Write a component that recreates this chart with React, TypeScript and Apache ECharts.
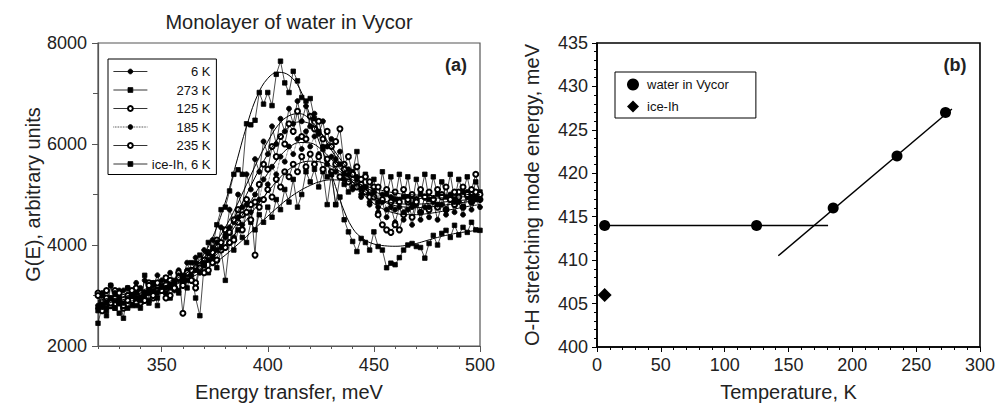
import React, { useEffect, useRef } from 'react';
import * as echarts from 'echarts';

const FONT = '"Liberation Sans", Arial, Helvetica, sans-serif';

// ---------- Panel (a): measured spectra ----------
const energy = [
  320, 322, 324, 326, 328, 330, 332, 334, 336, 338,
  340, 342, 344, 346, 348, 350, 352, 354, 356, 358,
  360, 362, 364, 366, 368, 370, 372, 374, 376, 378,
  380, 382, 384, 386, 388, 390, 392, 394, 396, 398,
  400, 402, 404, 406, 408, 410, 412, 414, 416, 418,
  420, 422, 424, 426, 428, 430, 432, 434, 436, 438,
  440, 442, 444, 446, 448, 450, 452, 454, 456, 458,
  460, 462, 464, 466, 468, 470, 472, 474, 476, 478,
  480, 482, 484, 486, 488, 490, 492, 494, 496, 498,
  500,
];

const g6K = [
  2750, 3050, 2850, 3200, 2900, 3100, 2800, 3150, 3000, 3250,
  2950, 3300, 3050, 3200, 3400, 3150, 3300, 3450, 3250, 3500,
  3350, 3650, 3400, 3750, 3550, 3900, 3700, 4100, 3900, 4350,
  4150, 4700, 4450, 5000, 4750, 5400, 5100, 5700, 5450, 6050,
  5800, 6350, 6000, 6500, 6250, 6700, 6400, 6850, 6450, 6750,
  6350, 6600, 6200, 6450, 5950, 6100, 5700, 5850, 5400, 5500,
  5100, 5350, 4950, 5150, 4800, 4950, 4650, 4850, 4550, 4750,
  4450, 4750, 4500, 4700, 4400, 4800, 4500, 4750, 4550, 4850,
  4500, 4800, 4600, 4900, 4650, 4850, 4600, 4950, 4700, 4900,
  4750,
];

const g273K = [
  2700, 3000, 2600, 3200, 2750, 2950, 2550, 3150, 2800, 3050,
  2750, 3400, 2900, 3250, 2800, 3150, 3350, 2950, 3200, 3050,
  3300, 3150, 3500, 2950, 2600, 3600, 3450, 3800, 3550, 3900,
  3300, 4050, 3900, 4300, 4150, 4050, 4450, 4300, 4600, 4450,
  4750, 4550, 4900, 4700, 5100, 4850, 5300, 4750, 5000, 5450,
  5250, 5500, 5150, 5450, 4800, 5400, 4800, 5350, 5200, 5050,
  5450, 5850, 5100, 5400, 5000, 5300, 4850, 5450, 5000, 5350,
  4900, 5400, 4950, 5350, 4800, 5300, 5000, 5400, 4900, 5350,
  5000, 5250, 4950, 5400, 4900, 5300, 5050, 5350, 4950, 5250,
  5050,
];

const g125K = [
  3050, 2700, 2950, 2800, 3100, 2850, 2750, 3000, 2900, 3150,
  2850, 3050, 3250, 2950, 3200, 3100, 3350, 3000, 3150, 3450,
  2650, 3350, 3500, 3250, 3600, 3450, 3850, 3650, 4100, 3900,
  4300, 4050, 4500, 4700, 4600, 4900, 4800, 3800, 5200, 5600,
  5500, 5950, 5750, 6150, 6000, 6400, 6250, 6650, 6150, 6100,
  6550, 6300, 6450, 6100, 6250, 5950, 6050, 6300, 5600, 5750,
  5400, 5550, 5200, 5350, 4950, 5150, 4600, 4400, 4300, 4250,
  4400, 4300, 4600, 4850, 4550, 4900, 4650, 4950, 4700, 4900,
  4750, 5000, 4700, 4950, 4800, 5050, 4750, 5000, 4850, 5050,
  4900,
];

const g185K = [
  2800, 3000, 2750, 2950, 3050, 2850, 3100, 2900, 3050, 2950,
  3150, 2950, 3100, 3250, 3050, 3300, 3150, 3250, 3100, 3400,
  3250, 3500, 3300, 3650, 3450, 3600, 3850, 3750, 4050, 3950,
  4200, 4350, 4150, 4550, 4400, 4800, 4650, 5000, 4900, 5300,
  5200, 5550, 5400, 5750, 5650, 5950, 5800, 6100, 5900, 6250,
  5950, 6150, 5800, 5950, 5600, 5750, 5450, 5600, 5300, 5400,
  5150, 5300, 5000, 5150, 4850, 5050, 4750, 5000, 4700, 4950,
  4700, 4900, 4650, 4950, 4750, 4850, 4650, 4950, 4750, 4900,
  4800, 4950, 4700, 5000, 4850, 4950, 4750, 5050, 4850, 4950,
  4900,
];

const g235K = [
  3000, 2800, 3100, 2850, 2950, 3050, 2800, 2900, 3100, 2850,
  3050, 2900, 3200, 3000, 3250, 3100, 2950, 3300, 3150, 3350,
  3200, 3450, 3300, 3150, 3550, 3700, 3500, 3850, 3700, 4050,
  3950, 4250, 4100, 4450, 4300, 4650, 4500, 4850, 4750, 4900,
  5100, 4950, 5300, 5150, 5450, 5350, 5600, 5450, 5750, 5550,
  5800, 5600, 5750, 5500, 5700, 5450, 5600, 5350, 5500, 5250,
  5400, 5150, 5300, 5050, 5250, 4950, 5150, 4900, 5100, 4850,
  5050, 4850, 5100, 4900, 5000, 4850, 5100, 4950, 5050, 4900,
  5100, 4950, 5150, 4900, 5050, 4950, 5150, 5000, 5100, 5400,
  5000,
];

const gIce = [
  2450, 2800, 2700, 2950, 2750, 2650, 2850, 2750, 3000, 2800,
  2900, 3050, 2850, 3100, 2950, 3200, 3050, 3150, 3300, 3100,
  3400, 3300, 3650, 3500, 3800, 3650, 4050, 3950, 4400, 4700,
  4750, 5070, 5400, 5490, 5400, 6400, 6380, 6470, 7020, 6790,
  7020, 6760, 7380, 7640, 7210, 7020, 7440, 7250, 6920, 6850,
  6900, 6500, 6250, 5900, 5350, 5400, 4800, 4950, 4500, 4260,
  4070, 3870, 4130, 4050, 3900, 4260, 3970, 3900, 3550, 3640,
  3610, 3750, 3900, 4000, 4030, 3970, 3950, 3740, 4030, 4190,
  4000, 4230, 4290, 4150, 4390, 4200, 4350, 4250, 4450, 4300,
  4290,
];

// fitted curves
const fitEnergy = [
  320, 325, 330, 335, 340, 345, 350, 355, 360, 365, 370, 375, 380, 385, 390, 395, 400, 405, 410,
  415, 420, 425, 430, 435, 440, 445, 450, 455, 460, 465, 470, 475, 480, 485, 490, 495, 500,
];
const fitIce = [
  2700, 2760, 2820, 2880, 2950, 3030, 3120, 3230, 3380, 3570, 3820, 4250, 4850, 5600, 6350, 6950, 7300, 7420, 7360,
  7100, 6550, 5950, 5400, 4780, 4330, 4120, 4020, 3985, 3975, 3990, 4030, 4090, 4150, 4200, 4240, 4270, 4300,
];
const fit6K = [
  2900, 2950, 3000, 3050, 3100, 3160, 3220, 3300, 3400, 3550, 3750, 4020, 4350, 4750, 5200, 5650, 6050, 6380, 6560,
  6600, 6480, 6220, 5880, 5550, 5250, 5000, 4820, 4700, 4630, 4600, 4600, 4620, 4650, 4690, 4730, 4770, 4800,
];
const fit125K = [
  2850, 2900, 2950, 3000, 3050, 3110, 3170, 3240, 3330, 3480, 3700, 3950, 4250, 4600, 5000, 5420, 5800, 6120, 6340,
  6440, 6400, 6220, 5950, 5650, 5380, 5150, 4970, 4850, 4780, 4750, 4740, 4750, 4770, 4800, 4830, 4860, 4880,
];
const fit185K = [
  2880, 2920, 2960, 3000, 3050, 3100, 3160, 3230, 3320, 3460, 3650, 3850, 4100, 4400, 4730, 5080, 5420, 5720, 5930,
  6030, 6020, 5900, 5700, 5470, 5250, 5080, 4950, 4870, 4830, 4810, 4810, 4820, 4840, 4860, 4880, 4900, 4920,
];
const fit235K = [
  2850, 2890, 2940, 2980, 3030, 3080, 3140, 3210, 3300, 3430, 3600, 3780, 4000, 4240, 4500, 4780, 5050, 5300, 5500,
  5620, 5660, 5640, 5560, 5430, 5290, 5160, 5060, 4990, 4950, 4930, 4920, 4920, 4930, 4940, 4950, 4960, 4970,
];
const fit273K = [
  2800, 2850, 2900, 2950, 3000, 3060, 3120, 3190, 3280, 3380, 3500, 3640, 3800, 3980, 4170, 4370, 4570, 4760, 4930,
  5070, 5180, 5260, 5290, 5280, 5240, 5180, 5120, 5070, 5030, 5000, 4990, 4980, 4980, 4980, 4990, 5000, 5000,
];

// ---------- Panel (b) ----------
const waterTemps = [6, 125, 185, 235, 273];
const waterPeaks = [414, 414, 416, 422, 427];
const iceTemps = [6];
const icePeaks = [406];
const flatLineT = [6, 181];
const flatLineE = [414, 414];
const slopeLineT = [142, 278];
const slopeLineE = [410.5, 427.4];

const legendA = ['6 K', '273 K', '125 K', '185 K', '235 K', 'ice-Ih, 6 K'];
const legendB = ['water in Vycor', 'ice-Ih'];

const zip = (xs: number[], ys: number[]) => xs.map((x, i) => [x, ys[i]]);

export default function App() {
  const ref = useRef<HTMLDivElement>(null);

  useEffect(() => {
    const chart = echarts.init(ref.current as HTMLDivElement, null, { renderer: 'svg' });

    const dataSeries = (name: string, ys: number[], symbol: string, lineType: string = 'solid') => ({
      type: 'line',
      name,
      xAxisIndex: 0,
      yAxisIndex: 0,
      data: zip(energy, ys),
      symbol,
      symbolSize: symbol === 'rect' ? 4.5 : 5,
      showSymbol: true,
      lineStyle: { color: '#000', width: 0.7, type: lineType },
      itemStyle: { color: '#000', borderColor: '#000', borderWidth: 0.8, opacity: 1 },
      emphasis: { disabled: true },
      z: 3,
    });
    const fitSeries = (ys: number[]) => ({
      type: 'line',
      xAxisIndex: 0,
      yAxisIndex: 0,
      data: zip(fitEnergy, ys),
      smooth: 0.4,
      symbol: 'none',
      showSymbol: false,
      lineStyle: { color: '#000', width: 1 },
      silent: true,
      z: 4,
    });
    const axisText = { fontFamily: FONT, fontSize: 18, color: '#222' };
    const nameText = { fontFamily: FONT, fontSize: 20, color: '#222' };
    const plain = (v: number) => String(v);

    chart.setOption({
      animation: false,
      backgroundColor: '#fff',
      textStyle: { fontFamily: FONT },
      grid: [
        { left: 98, top: 43, width: 382, height: 308, show: true, borderColor: '#555', borderWidth: 1.2, backgroundColor: 'transparent' },
        { left: 597, top: 43, width: 385, height: 309, show: true, borderColor: '#000', borderWidth: 1.6, backgroundColor: 'transparent' },
      ],
      xAxis: [
        {
          gridIndex: 0, type: 'value', min: 320, max: 500, interval: 10, position: 'bottom',
          axisLine: { show: true, lineStyle: { color: '#555', width: 1.2 } },
          axisTick: { show: true, length: 3, lineStyle: { color: '#555' } },
          axisLabel: { ...axisText, margin: 10, formatter: (v: number) => (v % 50 === 0 ? String(v) : '') },
          splitLine: { show: false },
          name: 'Energy transfer, meV', nameLocation: 'middle', nameGap: 36, nameTextStyle: nameText,
        },
        {
          gridIndex: 0, type: 'value', min: 320, max: 500, position: 'bottom',
          axisLine: { show: false },
          axisTick: { show: true, length: 6, customValues: [350, 400, 450, 500], lineStyle: { color: '#555' } },
          axisLabel: { show: false },
          splitLine: { show: false },
        },
        {
          gridIndex: 1, type: 'value', min: 0, max: 300, interval: 50, position: 'bottom',
          axisLine: { show: true, lineStyle: { color: '#000', width: 1.6 } },
          axisTick: { show: true, length: 5, lineStyle: { color: '#000' } },
          minorTick: { show: true, splitNumber: 5, length: 3, lineStyle: { color: '#000' } },
          axisLabel: { ...axisText, margin: 9, formatter: plain },
          splitLine: { show: false },
          name: 'Temperature, K', nameLocation: 'middle', nameGap: 35, nameTextStyle: nameText,
        },
      ],
      yAxis: [
        {
          gridIndex: 0, type: 'value', min: 2000, max: 8000, interval: 2000,
          axisLine: { show: true, lineStyle: { color: '#555', width: 1.2 } },
          axisTick: { show: true, length: 6, lineStyle: { color: '#555' } },
          minorTick: { show: true, splitNumber: 2, length: 5, lineStyle: { color: '#555' } },
          axisLabel: { ...axisText, margin: 11, formatter: plain },
          splitLine: { show: false },
          name: 'G(E), arbitrary units', nameLocation: 'middle', nameGap: 55, nameRotate: 90, nameTextStyle: nameText,
        },
        {
          gridIndex: 1, type: 'value', min: 400, max: 435, interval: 5,
          axisLine: { show: true, lineStyle: { color: '#000', width: 1.6 } },
          axisTick: { show: true, length: 5, lineStyle: { color: '#000' } },
          minorTick: { show: true, splitNumber: 5, length: 3, lineStyle: { color: '#000' } },
          axisLabel: { ...axisText, margin: 9, formatter: plain },
          splitLine: { show: false },
          name: 'O-H stretching mode energy, meV', nameLocation: 'middle', nameGap: 55, nameRotate: 90, nameTextStyle: nameText,
        },
      ],
      legend: [
        {
          data: legendA,
          orient: 'vertical', left: 108, top: 59,
          padding: [6, 6, 4, 5], itemGap: 5.5, itemWidth: 34, itemHeight: 6,
          borderColor: '#000', borderWidth: 1, backgroundColor: '#fff',
          selectedMode: false,
          lineStyle: { width: 0.8 },
          itemStyle: { borderWidth: 0.8 },
          formatter: '{a|{name}}',
          textStyle: {
            fontFamily: FONT, fontSize: 13, color: '#111',
            rich: { a: { width: 58, align: 'right', fontFamily: FONT, fontSize: 13, color: '#111' } },
          },
        },
        {
          data: legendB,
          orient: 'vertical', left: 615, top: 72,
          padding: [6, 27, 5, 12], itemGap: 9, itemWidth: 12, itemHeight: 12,
          borderColor: '#000', borderWidth: 1, backgroundColor: '#fff',
          selectedMode: false,
          textStyle: { fontFamily: FONT, fontSize: 13, color: '#111', padding: [0, 0, 0, 3] },
        },
      ],
      graphic: [
        { type: 'text', x: 289, y: 22, style: { text: 'Monolayer of water in Vycor', fontFamily: FONT, fontSize: 20, fill: '#222', textAlign: 'center', textVerticalAlign: 'middle' } },
        { type: 'text', x: 456, y: 65, style: { text: '(a)', fontFamily: FONT, fontSize: 18, fontWeight: 'bold', fill: '#222', textAlign: 'center', textVerticalAlign: 'middle' } },
        { type: 'text', x: 955, y: 65, style: { text: '(b)', fontFamily: FONT, fontSize: 18, fontWeight: 'bold', fill: '#222', textAlign: 'center', textVerticalAlign: 'middle' } },
      ],
      series: [
        fitSeries(fitIce),
        fitSeries(fit6K),
        fitSeries(fit125K),
        fitSeries(fit185K),
        fitSeries(fit235K),
        fitSeries(fit273K),
        dataSeries('6 K', g6K, 'circle'),
        dataSeries('273 K', g273K, 'rect'),
        dataSeries('125 K', g125K, 'emptyCircle'),
        dataSeries('185 K', g185K, 'circle', 'dotted'),
        dataSeries('235 K', g235K, 'emptyCircle'),
        dataSeries('ice-Ih, 6 K', gIce, 'rect'),
        {
          type: 'line', xAxisIndex: 2, yAxisIndex: 1, data: zip(flatLineT, flatLineE),
          symbol: 'none', lineStyle: { color: '#000', width: 1.5 }, silent: true, z: 2,
        },
        {
          type: 'line', xAxisIndex: 2, yAxisIndex: 1, data: zip(slopeLineT, slopeLineE),
          symbol: 'none', lineStyle: { color: '#000', width: 1.5 }, silent: true, z: 2,
        },
        {
          type: 'scatter', name: 'water in Vycor', xAxisIndex: 2, yAxisIndex: 1,
          data: zip(waterTemps, waterPeaks), symbol: 'circle', symbolSize: 11,
          itemStyle: { color: '#000', opacity: 1 }, z: 3,
        },
        {
          type: 'scatter', name: 'ice-Ih', xAxisIndex: 2, yAxisIndex: 1,
          data: zip(iceTemps, icePeaks), symbol: 'diamond', symbolSize: 14,
          itemStyle: { color: '#000', opacity: 1 }, z: 3,
        },
      ],
    });

    return () => chart.dispose();
  }, []);

  return (
    <div
      ref={ref}
      style={{ position: 'absolute', left: 0, top: 0, width: 998, height: 407, background: '#fff' }}
    />
  );
}
